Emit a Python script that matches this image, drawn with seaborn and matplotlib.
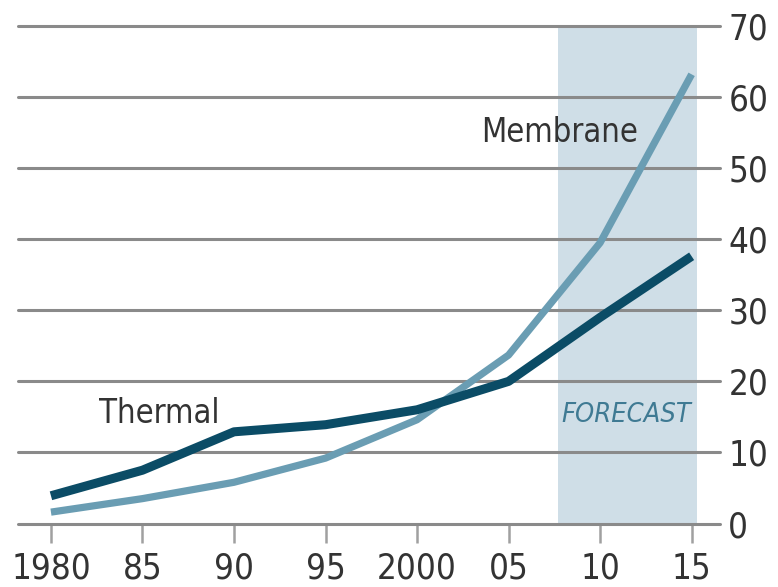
"""
plot.py - Thermal vs membrane capacity, with forecast band.
"""

import matplotlib
matplotlib.use("Agg")
import matplotlib.pyplot as plt
import pandas as pd
import seaborn as sns

# Data
years = [1980, 1985, 1990, 1995, 2000, 2005, 2010, 2015]
thermal = [3.9, 7.5, 12.9, 13.9, 16.0, 20.0, 29.0, 37.6]
membrane = [1.6, 3.5, 5.8, 9.2, 14.6, 23.7, 39.5, 63.2]
forecast_span = (2007.7, 2015.3)
y_ticks = [0, 10, 20, 30, 40, 50, 60, 70]
x_ticks = [1980, 1985, 1990, 1995, 2000, 2005, 2010, 2015]
x_labels = ["1980", "85", "90", "95", "2000", "05", "10", "15"]

THERMAL_COLOR = "#0b4c66"
MEMBRANE_COLOR = "#6a9db3"
SHADE_COLOR = "#cfdee7"
GRID_COLOR = "#8a8a8a"
TEXT_COLOR = "#333333"


def main() -> None:
    sns.set_theme(style="white")
    plt.rcParams["font.family"] = ["DejaVu Sans"]
    plt.rcParams["font.stretch"] = "condensed"

    df = pd.DataFrame({"year": years, "Thermal": thermal, "Membrane": membrane})

    fig = plt.figure(figsize=(7.78, 5.87), dpi=100)
    ax = fig.add_axes([18 / 778, 1 - 523.5 / 587, (720 - 18) / 778, (523.5 - 26) / 587])

    # forecast band and horizontal rules
    ax.axvspan(*forecast_span, color=SHADE_COLOR, lw=0, zorder=0)
    for y in y_ticks:
        ax.axhline(y, color=GRID_COLOR, lw=2.2, clip_on=False, zorder=1)

    sns.lineplot(data=df, x="year", y="Thermal", ax=ax, color=THERMAL_COLOR,
                 lw=6.5, solid_capstyle="butt", zorder=3)
    sns.lineplot(data=df, x="year", y="Membrane", ax=ax, color=MEMBRANE_COLOR,
                 lw=5.2, solid_capstyle="butt", zorder=2)

    ax.set_xlim(1978.2, 2016.55)
    ax.set_ylim(0, 70)
    for s in ax.spines.values():
        s.set_visible(False)

    ax.yaxis.tick_right()
    ax.set_yticks(y_ticks)
    ax.tick_params(axis="y", length=0, pad=6, labelsize=25, labelcolor=TEXT_COLOR)
    ax.set_xticks(x_ticks)
    ax.set_xticklabels(x_labels)
    ax.tick_params(axis="x", bottom=True, length=14, width=1.8, color="#a0a0a0",
                   pad=6, labelsize=25, labelcolor=TEXT_COLOR)
    ax.set_xlabel("")
    ax.set_ylabel("")

    ax.text(1982.6, 15.5, "Thermal", fontsize=23.5, color=TEXT_COLOR, va="center", ha="left")
    ax.text(2003.5, 55.0, "Membrane", fontsize=23.5, color=TEXT_COLOR, va="center", ha="left")
    ax.text(2011.4, 15.3, "FORECAST", fontsize=19.5, color="#3f7a93", style="italic",
            va="center", ha="center")

    fig.savefig("out.png", dpi=100)


if __name__ == "__main__":
    main()
